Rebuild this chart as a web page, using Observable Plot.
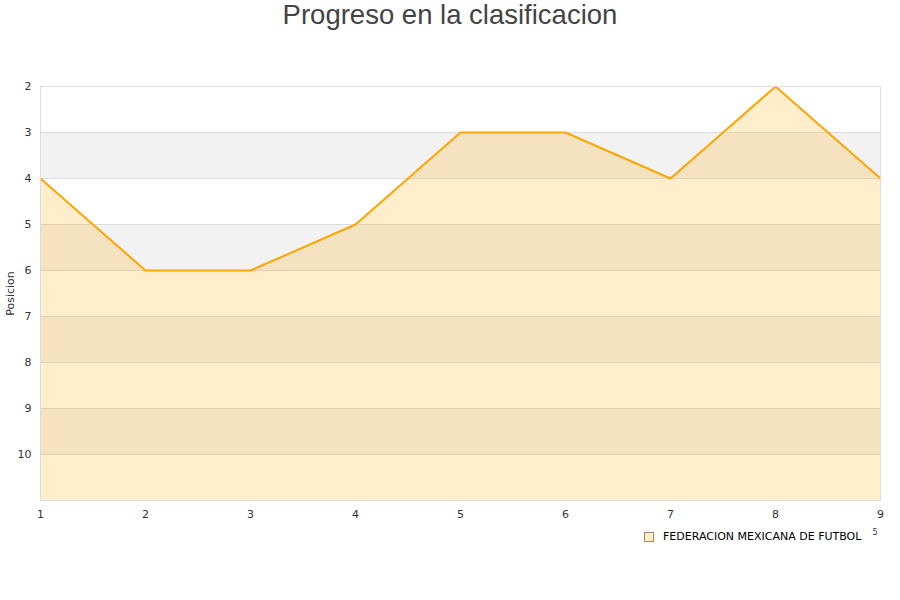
<!DOCTYPE html>
<html>
<head>
<meta charset="utf-8">
<script src="https://cdn.jsdelivr.net/npm/d3@7"></script>
<script src="https://cdn.jsdelivr.net/npm/@observablehq/plot@0.6"></script>
<style>
  body { margin: 0; background: #fff; }
  #wrap { position: relative; width: 900px; height: 600px; }
  #title { position: absolute; top: -2px; left: 0; width: 900px; text-align: center;
    font-family: "Liberation Sans", Arial, sans-serif; font-size: 27.5px; color: #444; line-height: 34px; }
  #legend { position: absolute; left: 644px; top: 530px; font-family: "DejaVu Sans", sans-serif;
    font-size: 11px; color: #000; display: flex; align-items: center; }
  #legend .sw { width: 8px; height: 8px; background: #ffedcc; border: 1px solid #a08a60; margin-right: 9px; }
  #legend .sup { font-size: 8px; margin-left: 11px; position: relative; top: -4px; color: #333; }
</style>
</head>
<body>
<div id="wrap">
  <div id="title">Progreso en la clasificacion</div>
  <div id="chart"></div>
  <div id="legend"><span class="sw"></span><span>FEDERACION MEXICANA DE FUTBOL</span><span class="sup">5</span></div>
</div>
<script>
const jornadas = [1, 2, 3, 4, 5, 6, 7, 8, 9];
const posiciones = [4, 6, 6, 5, 3, 3, 4, 2, 4];
const yTicks = [2, 3, 4, 5, 6, 7, 8, 9, 10];
const gridLines = [2, 3, 4, 5, 6, 7, 8, 9, 10, 11];
const bandStarts = [3, 5, 7, 9];
const bottomPos = 11;

const data = jornadas.map((j, i) => ({j, p: posiciones[i]}));
const bands = bandStarts.map(s => ({y1: s, y2: s + 1}));

const chart = Plot.plot({
  width: 900,
  height: 600,
  marginTop: 86,
  marginBottom: 100,
  marginLeft: 40,
  marginRight: 20,
  style: {fontFamily: "DejaVu Sans, sans-serif", fontSize: "11px", color: "#333", background: "#fff"},
  x: {domain: [1, 9], ticks: jornadas, tickFormat: d => d},
  y: {domain: [2, bottomPos], reverse: true},
  marks: [
    Plot.rect(bands, {x1: 1, x2: 9, y1: "y1", y2: "y2", fill: "#f2f2f2"}),
    Plot.ruleY(gridLines, {stroke: "#dddddd", strokeWidth: 1}),
    Plot.area(data, {x1: "j", y1: "p", y2: bottomPos, fill: "#ffa500", fillOpacity: 0.2}),
    Plot.line(data, {x: "j", y: "p", stroke: "#ffa500", strokeWidth: 2}),
    Plot.frame({stroke: "#dddddd"}),
    Plot.axisX({ticks: jornadas, tickSize: 0, tickPadding: 10, label: null, tickFormat: d => d}),
    Plot.axisY({ticks: yTicks, tickSize: 0, tickPadding: 9, label: "Posicion", labelAnchor: "center", labelArrow: "none", labelOffset: 34, tickFormat: d => d})
  ]
});
document.getElementById("chart").appendChild(chart);
</script>
</body>
</html>
